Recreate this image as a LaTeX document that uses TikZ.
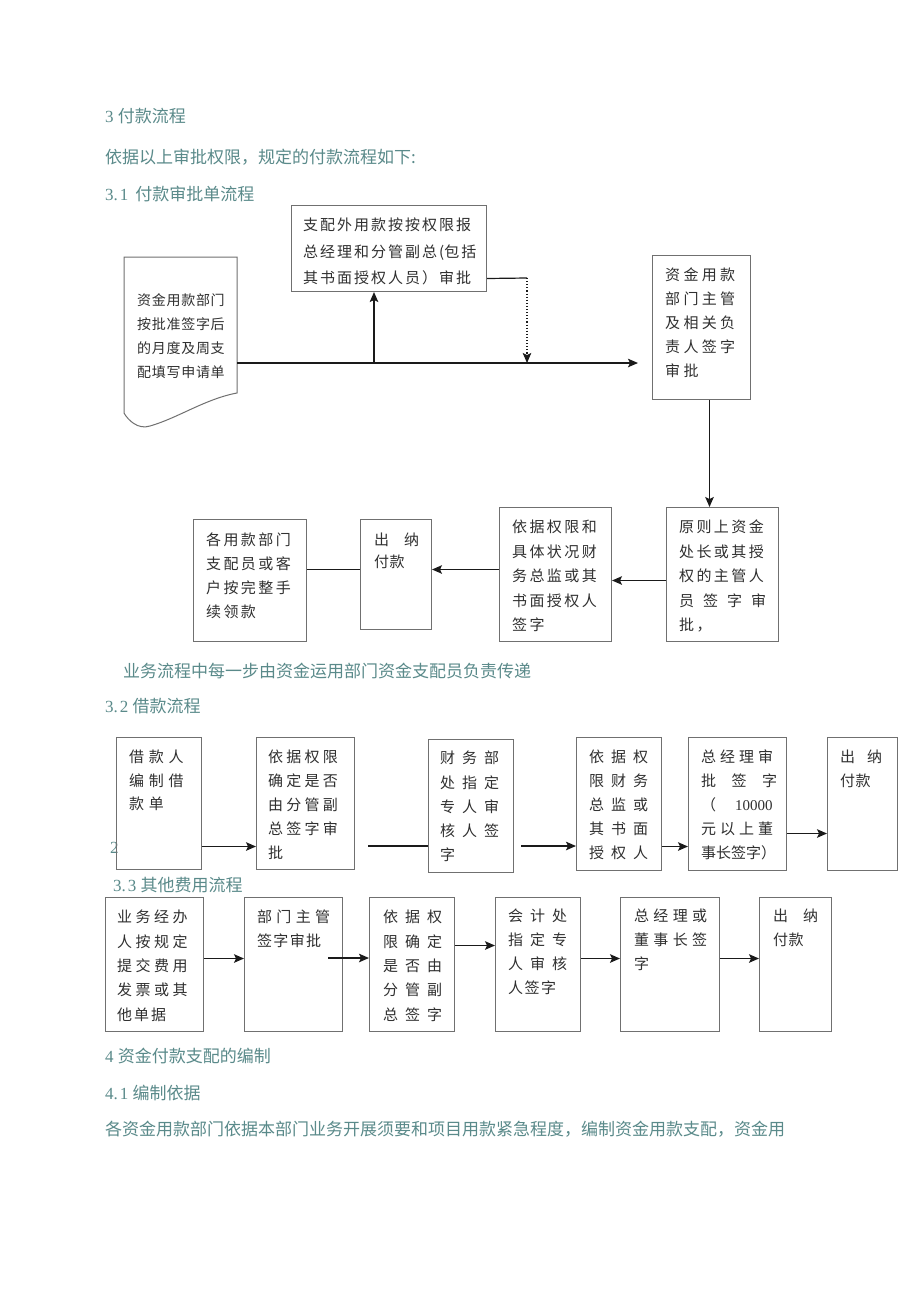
\documentclass[tikz,border=0pt]{standalone}
\usepackage{fontspec}
\setmainfont{Liberation Serif}
\newfontfamily\cjk{Noto Sans CJK SC}
\usetikzlibrary{arrows.meta,calc}
\definecolor{hdc}{HTML}{5A8A8A}
\definecolor{btc}{HTML}{303030}
\definecolor{bdc}{HTML}{707070}
\definecolor{arc}{HTML}{1A1A1A}
\ExplSyntaxOn
\NewDocumentCommand \ls { m m } { \tl_map_inline:nn {#2} { \makebox[#1][l]{##1} } }
\ExplSyntaxOff
\tikzset{
  bx/.style={draw=bdc, line width=1pt, anchor=north west, inner sep=0pt},
  txt/.style={anchor=north west, inner sep=0pt, align=left, text=btc, font=\cjk\fontsize{15}{24}\selectfont},
  hd/.style={anchor=west, inner sep=0pt, text=hdc, font=\fontsize{17}{20}\selectfont},
  ln/.style={draw=arc, line width=1.6pt},
  arr/.style={draw=arc, line width=1.6pt, -{Stealth[length=10pt,width=8.5pt,inset=2pt]}}
}
\begin{document}
\begin{tikzpicture}[x=1pt,y=-1pt]
\useasboundingbox[fill=white] (0,0) rectangle (920,1301);

% headings and body text
\node[hd] (h1) at (105,116) {3 {\cjk 付款流程}};
\node[hd] (h2) at (105,157) {\cjk 依据以上审批权限，规定的付款流程如下:};
\node[hd] (h3) at (105,194) {3.\hspace{2pt}1\hspace{7pt}{\cjk 付款审批单流程}};
\node[hd] (h4) at (123,671) {\cjk 业务流程中每一步由资金运用部门资金支配员负责传递};
\node[hd] (h5) at (105,706) {3.\hspace{2pt}2 {\cjk 借款流程}};
\node[hd] (h6) at (110,848) {2};
\node[hd] (h7) at (113,885) {3.\hspace{2pt}3 {\cjk 其他费用流程}};
\node[hd] (h8) at (105,1056) {4 {\cjk 资金付款支配的编制}};
\node[hd] (h9) at (105,1093) {4.\hspace{2pt}1 {\cjk 编制依据}};
\node[hd] (h10) at (105,1129) {\cjk 各资金用款部门依据本部门业务开展须要和项目用款紧急程度，编制资金用款支配，资金用};

% ---------- 3.1 ----------
\draw[draw=bdc, line width=1pt] (124,257) -- (237,257) -- (237,393)
  .. controls (205,399) and (178,418) .. (150,426)
  .. controls (138,430) and (128,420) .. (124,413) -- cycle;
\node[anchor=north west, inner sep=0pt, minimum width=113pt, minimum height=136pt] (doc) at (124,257) {};
\node[txt, font=\cjk\fontsize{14}{24}\selectfont] (tdoc) at (137,293)
  {\ls{14.7pt}{资金用款部门}\\\ls{14.7pt}{按批准签字后}\\\ls{14.7pt}{的月度及周支}\\\ls{14.7pt}{配填写申请单}};

\node[bx, minimum width=195pt, minimum height=86pt] (A) at (291,205) {};
\node[txt, font=\cjk\fontsize{15}{26.5}\selectfont] (tA) at (303,218)
  {\ls{17pt}{支配外用款按按权限报}\\\ls{17pt}{总经理和分管副总}(\ls{17pt}{包括}\\\ls{17pt}{其书面授权人员）审批}};

\node[bx, minimum width=98pt, minimum height=144pt] (B) at (652,255) {};
\node[txt] (tB) at (665,268)
  {\ls{18.3pt}{资金用款}\\\ls{18.3pt}{部门主管}\\\ls{18.3pt}{及相关负}\\\ls{18.3pt}{责人签字}\\\ls{18.3pt}{审批}};

\node[bx, minimum width=112pt, minimum height=134pt] (C) at (666,507) {};
\node[txt, font=\cjk\fontsize{15}{24.5}\selectfont] (tC) at (679,520)
  {\ls{17.4pt}{原则上资金}\\\ls{17.4pt}{处长或其授}\\\ls{17.4pt}{权的主管人}\\\ls{24pt}{员签字审}\\\ls{17.4pt}{批，}};

\node[bx, minimum width=112pt, minimum height=134pt] (D) at (499,507) {};
\node[txt, font=\cjk\fontsize{15}{24.5}\selectfont] (tD) at (512,520)
  {\ls{17.4pt}{依据权限和}\\\ls{17.4pt}{具体状况财}\\\ls{17.4pt}{务总监或其}\\\ls{17.4pt}{书面授权人}\\\ls{17.4pt}{签字}};

\node[bx, minimum width=71pt, minimum height=110pt] (E) at (360,519) {};
\node[txt, font=\cjk\fontsize{15}{22}\selectfont] (tE) at (374,533)
  {\ls{15pt}{出~纳}\\\ls{15.5pt}{付款}};

\node[bx, minimum width=113pt, minimum height=122pt] (F) at (193,519) {};
\node[txt, font=\cjk\fontsize{15}{23.7}\selectfont] (tF) at (206,533)
  {\ls{17.4pt}{各用款部门}\\\ls{17.4pt}{支配员或客}\\\ls{17.4pt}{户按完整手}\\\ls{17.4pt}{续领款}};

\coordinate (m0) at (237,363);
\coordinate (m1) at (374,363);
\coordinate (m2) at (527,363);
\coordinate (m3) at (638,363);
\coordinate (k1) at (527,278);
\draw[arr] (m0) -- (m3);
\draw[arr] (m1) -- (m1 |- A.south);
\draw[ln, line width=1.2pt] ([yshift=-30pt]A.east) -- (k1);
\draw[arr, line width=1.1pt, dotted] (k1) -- (m2);
\draw[arr] ([xshift=8pt]B.south) -- ([xshift=8pt]B.south |- C.north);
\draw[arr] ([yshift=-6pt]C.west) -- ([yshift=-6pt]C.west -| D.east);
\draw[arr] ([yshift=5pt]D.west) -- ([yshift=5pt]D.west -| E.east);
\draw[ln] ([yshift=5pt]E.west) -- ([yshift=5pt]E.west -| F.east);

% ---------- 3.2 ----------
\node[bx, minimum width=85pt, minimum height=132pt] (b1) at (116,737) {};
\node[txt, font=\cjk\fontsize{15}{23.5}\selectfont] (tb1) at (129,750)
  {\ls{19.7pt}{借款人}\\\ls{19.7pt}{编制借}\\\ls{19.7pt}{款单}};
\node[bx, minimum width=98pt, minimum height=132pt] (b2) at (256,737) {};
\node[txt] (tb2) at (268,750)
  {\ls{18.2pt}{依据权限}\\\ls{18.2pt}{确定是否}\\\ls{18.2pt}{由分管副}\\\ls{18.2pt}{总签字审}\\\ls{18.2pt}{批}};
\node[bx, minimum width=85pt, minimum height=133pt] (b3) at (428,739) {};
\node[txt, font=\cjk\fontsize{15}{24.2}\selectfont] (tb3) at (440,751)
  {\ls{22pt}{财务部}\\\ls{22pt}{处指定}\\\ls{22pt}{专人审}\\\ls{22pt}{核人签}\\\ls{22pt}{字}};
\node[bx, minimum width=85pt, minimum height=133pt] (b4) at (576,737) {};
\node[txt] (tb4) at (589,750)
  {\ls{22pt}{依据权}\\\ls{22pt}{限财务}\\\ls{22pt}{总监或}\\\ls{22pt}{其书面}\\\ls{22pt}{授权人}};
\node[bx, minimum width=98pt, minimum height=133pt] (b5) at (688,737) {};
\node[txt] (tb5) at (701,750)
  {\ls{19pt}{总经理审}\\\ls{30.5pt}{批签字}\\\ls{15pt}{（}\hspace{19pt}{\rmfamily 10000}\\\ls{19pt}{元以上董}\\\ls{15pt}{事长签字）}};
\node[bx, minimum width=70pt, minimum height=133pt] (b6) at (827,737) {};
\node[txt] (tb6) at (840,750)
  {\ls{13.5pt}{出~纳}\\\ls{15.5pt}{付款}};

\coordinate (s3) at (368,846);
\coordinate (s4) at (521,846);
\draw[arr] ([yshift=-43pt]b1.east) -- ([yshift=-43pt]b1.east -| b2.west);
\draw[ln] (s3) -- (s3 -| b3.west);
\draw[arr] (s4) -- (s4 -| b4.west);
\draw[arr] ([yshift=-42.5pt]b4.east) -- ([yshift=-42.5pt]b4.east -| b5.west);
\draw[arr] ([yshift=-29.5pt]b5.east) -- ([yshift=-29.5pt]b5.east -| b6.west);

% ---------- 3.3 ----------
\node[bx, minimum width=98pt, minimum height=134pt] (c1) at (105,897) {};
\node[txt, font=\cjk\fontsize{15}{24.3}\selectfont] (tc1) at (117,910)
  {\ls{18.5pt}{业务经办}\\\ls{18.5pt}{人按规定}\\\ls{18.5pt}{提交费用}\\\ls{18.5pt}{发票或其}\\\ls{17pt}{他单据}};
\node[bx, minimum width=98pt, minimum height=134pt] (c2) at (244,897) {};
\node[txt] (tc2) at (257,910)
  {\ls{19.3pt}{部门主管}\\\ls{16.3pt}{签字审批}};
\node[bx, minimum width=85pt, minimum height=134pt] (c3) at (369,897) {};
\node[txt, font=\cjk\fontsize{15}{24.3}\selectfont] (tc3) at (383,910)
  {\ls{22pt}{依据权}\\\ls{22pt}{限确定}\\\ls{22pt}{是否由}\\\ls{22pt}{分管副}\\\ls{22pt}{总签字}};
\node[bx, minimum width=85pt, minimum height=134pt] (c4) at (495,897) {};
\node[txt] (tc4) at (508,909)
  {\ls{22pt}{会计处}\\\ls{22pt}{指定专}\\\ls{22pt}{人审核}\\\ls{16.5pt}{人签字}};
\node[bx, minimum width=99pt, minimum height=134pt] (c5) at (620,897) {};
\node[txt] (tc5) at (634,909)
  {\ls{19.3pt}{总经理或}\\\ls{19.3pt}{董事长签}\\\ls{19.3pt}{字}};
\node[bx, minimum width=72pt, minimum height=134pt] (c6) at (759,897) {};
\node[txt] (tc6) at (773,909)
  {\ls{15pt}{出~纳}\\\ls{15.5pt}{付款}};

\coordinate (s7) at (328,958);
\draw[arr] ([yshift=6pt]c1.east) -- ([yshift=6pt]c1.east -| c2.west);
\draw[arr] (s7) -- (s7 -| c3.west);
\draw[arr] ([yshift=19pt]c3.east) -- ([yshift=19pt]c3.east -| c4.west);
\draw[arr] ([yshift=6pt]c4.east) -- ([yshift=6pt]c4.east -| c5.west);
\draw[arr] ([yshift=6pt]c5.east) -- ([yshift=6pt]c5.east -| c6.west);
\end{tikzpicture}
\end{document}
